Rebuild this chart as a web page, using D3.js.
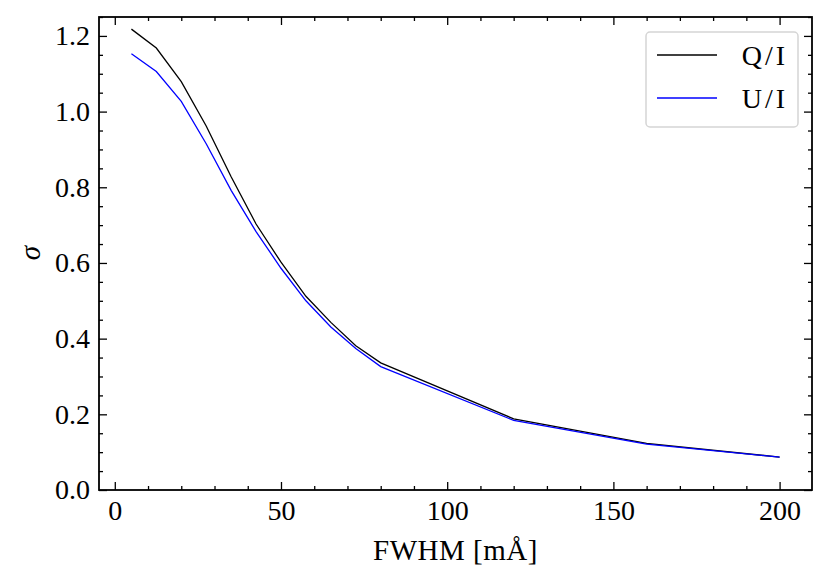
<!DOCTYPE html>
<html>
<head>
<meta charset="utf-8">
<script src="https://cdn.jsdelivr.net/npm/d3@7"></script>
<style>
  body { margin: 0; background: #fff; }
  text { font-family: "Liberation Serif", "DejaVu Serif", serif; }
</style>
</head>
<body>
<div id="chart-area"></div>
<script>
const fwhm = [5, 12.5, 20, 27.5, 35, 42.5, 50, 57.5, 65, 72.5, 80, 120, 160, 200]
const qI = [1.218, 1.168, 1.079, 0.962, 0.828, 0.703, 0.602, 0.512, 0.443, 0.381, 0.336, 0.188, 0.123, 0.087]
const uI = [1.153, 1.106, 1.027, 0.915, 0.792, 0.683, 0.586, 0.500, 0.431, 0.374, 0.326, 0.184, 0.121, 0.087]
const xTicks = [0, 50, 100, 150, 200]
const yTicks = [0.0, 0.2, 0.4, 0.6, 0.8, 1.0, 1.2]
const seriesNames = ["Q/I", "U/I"]
const seriesColors = ["#000000", "#0000ff"]

const SVG_WIDTH = 830
const SVG_HEIGHT = 586
const MARGIN = { left: 99, right: 18, top: 17, bottom: 96 }
const G_WIDTH = SVG_WIDTH - MARGIN.left - MARGIN.right
const G_HEIGHT = SVG_HEIGHT - MARGIN.top - MARGIN.bottom

const svg = d3.select("#chart-area").append("svg")
  .attr("width", SVG_WIDTH)
  .attr("height", SVG_HEIGHT)

const g = svg.append("g")
  .attr("transform", `translate(${MARGIN.left}, ${MARGIN.top})`)

const x = d3.scaleLinear().domain([-4.75, 209.75]).range([0, G_WIDTH])
const y = d3.scaleLinear().domain([0, 1.25]).range([G_HEIGHT, 0])

const xMinor = d3.range(0, 210, 10).filter(v => v % 50 !== 0)
const yMinor = d3.range(0, 26).map(i => i * 0.05).filter((v, i) => i % 4 !== 0)

function styleAxis(sel) {
  sel.select(".domain").remove()
  sel.selectAll("line").attr("stroke", "#000").attr("stroke-width", 1.3)
  sel.selectAll("text").attr("font-size", "28px").attr("fill", "#000")
}

// bottom
g.append("g").attr("transform", `translate(0, ${G_HEIGHT})`)
  .call(d3.axisBottom(x).tickValues(xTicks).tickSize(-8).tickPadding(10).tickFormat(d3.format("d")))
  .call(styleAxis)
g.append("g").attr("transform", `translate(0, ${G_HEIGHT})`)
  .call(d3.axisBottom(x).tickValues(xMinor).tickSize(-4).tickFormat(""))
  .call(styleAxis)
// top
g.append("g")
  .call(d3.axisTop(x).tickValues(xTicks).tickSize(-8).tickFormat(""))
  .call(styleAxis)
g.append("g")
  .call(d3.axisTop(x).tickValues(xMinor).tickSize(-4).tickFormat(""))
  .call(styleAxis)
// left
g.append("g")
  .call(d3.axisLeft(y).tickValues(yTicks).tickSize(-8).tickPadding(9).tickFormat(d3.format(".1f")))
  .call(styleAxis)
g.append("g")
  .call(d3.axisLeft(y).tickValues(yMinor).tickSize(-4).tickFormat(""))
  .call(styleAxis)
// right
g.append("g").attr("transform", `translate(${G_WIDTH}, 0)`)
  .call(d3.axisRight(y).tickValues(yTicks).tickSize(-8).tickFormat(""))
  .call(styleAxis)
g.append("g").attr("transform", `translate(${G_WIDTH}, 0)`)
  .call(d3.axisRight(y).tickValues(yMinor).tickSize(-4).tickFormat(""))
  .call(styleAxis)

// data lines
const line = d3.line().x(d => x(d[0])).y(d => y(d[1]))
const series = [qI, uI]
series.forEach((vals, i) => {
  g.append("path")
    .datum(fwhm.map((f, j) => [f, vals[j]]))
    .attr("fill", "none")
    .attr("stroke", seriesColors[i])
    .attr("stroke-width", 1.3)
    .attr("d", line)
})

// frame
g.append("rect")
  .attr("width", G_WIDTH)
  .attr("height", G_HEIGHT)
  .attr("fill", "none")
  .attr("stroke", "#000")
  .attr("stroke-width", 1.8)

// legend
const leg = svg.append("g").attr("transform", "translate(646, 32)")
leg.append("rect")
  .attr("width", 152)
  .attr("height", 95)
  .attr("rx", 4)
  .attr("fill", "#fff")
  .attr("fill-opacity", 0.8)
  .attr("stroke", "#d5d5d5")
  .attr("stroke-width", 1.5)
seriesNames.forEach((name, i) => {
  const yy = 23 + i * 43
  leg.append("line")
    .attr("x1", 11).attr("x2", 71)
    .attr("y1", yy).attr("y2", yy)
    .attr("stroke", seriesColors[i])
    .attr("stroke-width", 1.3)
  leg.append("text")
    .attr("x", 142)
    .attr("y", yy + 10)
    .attr("text-anchor", "end")
    .attr("font-size", "28px")
    .attr("letter-spacing", "3px")
    .text(name)
})

// axis labels
svg.append("text")
  .attr("x", MARGIN.left + G_WIDTH / 2)
  .attr("y", 560)
  .attr("text-anchor", "middle")
  .attr("font-size", "29px")
  .attr("letter-spacing", "0.5px")
  .text("FWHM [mÅ]")

svg.append("text")
  .attr("transform", "translate(40, 253) rotate(-90)")
  .attr("text-anchor", "middle")
  .attr("font-size", "29px")
  .attr("font-style", "italic")
  .text("σ")
</script>
</body>
</html>
